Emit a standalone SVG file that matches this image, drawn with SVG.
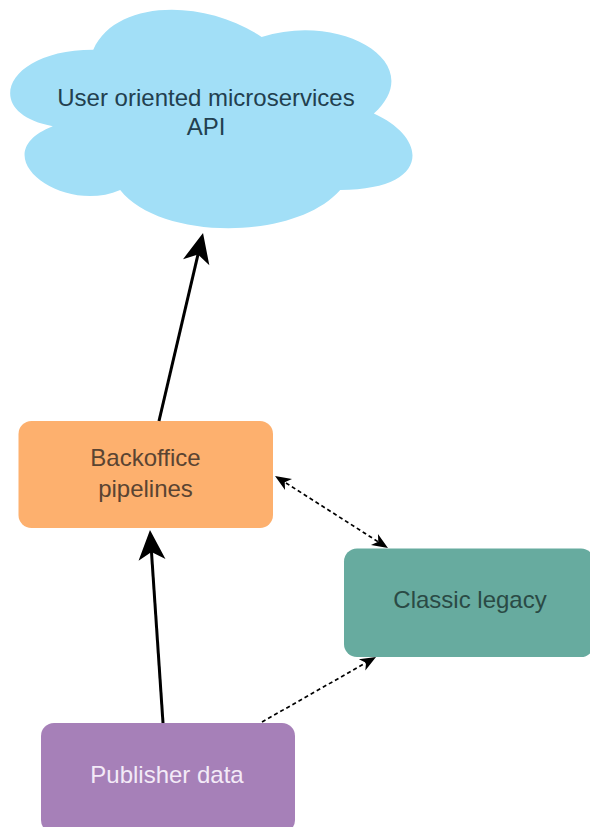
<svg xmlns="http://www.w3.org/2000/svg" width="590" height="827" viewBox="0 0 590 827">
<style>
text{font-family:"Liberation Sans",Arial,sans-serif;font-size:24px;text-anchor:middle}
.solid{fill:none;stroke:#000;stroke-width:3}
.dash{fill:none;stroke:#000;stroke-width:1.7;stroke-dasharray:4 3}
</style>
<defs>
<marker id="big" viewBox="-31 -14 32 28" markerWidth="32" markerHeight="28" refX="-15" refY="0" orient="auto" markerUnits="userSpaceOnUse">
<path d="M0,0 L-30,-13.5 L-22,0 L-30,13.5 Z" fill="#000"/>
</marker>
<marker id="small" viewBox="-17 -8 18 16" markerWidth="18" markerHeight="16" refX="-6" refY="0" orient="auto-start-reverse" markerUnits="userSpaceOnUse">
<path d="M0,0 L-16,-6.5 L-11.5,0 L-16,6.5 Z" fill="#000"/>
</marker>
</defs>
<g id="cloud">
<path d="M 93.25 49.75 C 3.45 49.75 -19 113.5 52.84 126.25 C -19 154.3 61.82 215.5 120.19 190 C 160.6 241 295.3 241 340.2 190 C 430 190 430 139 373.88 113.5 C 430 62.5 340.2 11.5 261.63 37 C 205.5 -1.25 115.7 -1.25 93.25 49.75 Z" fill="#A2DFF7"/>
<text x="206" y="106" fill="#22404F">User oriented microservices</text>
<text x="206" y="135" fill="#22404F">API</text>
</g>
<g id="backoffice">
<rect x="18.5" y="421" width="254.5" height="107" rx="13" fill="#FDB06E"/>
<text x="145.5" y="466" fill="#5A4432">Backoffice</text>
<text x="145.5" y="497" fill="#5A4432">pipelines</text>
</g>
<g id="classic">
<rect x="344" y="548.5" width="250" height="108.5" rx="13" fill="#67AB9F"/>
<text x="470" y="608" fill="#2A4A45">Classic legacy</text>
</g>
<g id="publisher">
<rect x="41" y="723" width="254" height="110" rx="13" fill="#A680B8"/>
<text x="167" y="782.5" fill="#F3EAF7">Publisher data</text>
</g>
<g id="connectors">
<line class="solid" x1="159" y1="421" x2="199.6" y2="247.6" marker-end="url(#big)"/>
<line class="solid" x1="163" y1="723" x2="151" y2="545" marker-end="url(#big)"/>
<line class="dash" x1="280.1" y1="479.2" x2="382.9" y2="544.8" marker-start="url(#small)" marker-end="url(#small)"/>
<line class="dash" x1="262" y1="722" x2="370.8" y2="660" marker-end="url(#small)"/>
</g>
</svg>
